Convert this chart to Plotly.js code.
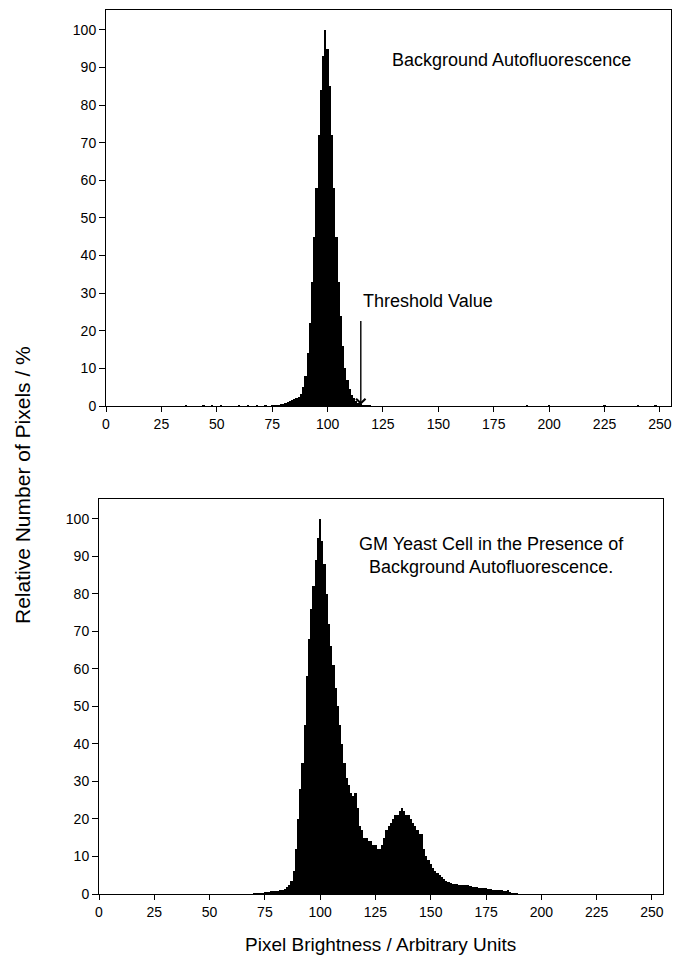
<!DOCTYPE html>
<html>
<head>
<meta charset="utf-8">
<script src="https://cdn.plot.ly/plotly-3.0.1.min.js"></script>
<style>html,body{margin:0;padding:0;background:#fff;}#chart{width:675px;height:962px;}</style>
</head>
<body>
<div id="chart"></div>
<script>
// Top panel: background autofluorescence histogram (brightness bin -> % of max)
const bgBins = [36,40,44,48,52,56,60,64,68,72,75,76,77,78,79,80,81,82,83,84,85,86,87,88,89,90,91,92,93,94,95,96,97,98,99,100,101,102,103,104,105,106,107,108,109,110,111,112,113,114,115,116,117,118,119,120,190,200,210,225,240,248];
const bgValues = [0.15,0.1,0.15,0.2,0.15,0.1,0.15,0.2,0.15,0.2,0.2,0.3,0.3,0.4,0.5,0.6,0.8,1.0,1.3,1.5,1.8,2.0,2.5,3.2,5,8,14,22,33,45,58,72,84,93,100,95,85,72,58,45,33,24,16,10,7,4.5,3,2,1.2,0.8,0.5,0.4,0.3,0.2,0.15,0.1,0.15,0.2,0.1,0.15,0.2,0.15];

// Bottom panel: GM yeast cell + background (bins 70..190)
const gmBins = [70,71,72,73,74,75,76,77,78,79,80,81,82,83,84,85,86,87,88,89,90,91,92,93,94,95,96,97,98,99,100,101,102,103,104,105,106,107,108,109,110,111,112,113,114,115,116,117,118,119,120,121,122,123,124,125,126,127,128,129,130,131,132,133,134,135,136,137,138,139,140,141,142,143,144,145,146,147,148,149,150,151,152,153,154,155,156,157,158,159,160,161,162,163,164,165,166,167,168,169,170,171,172,173,174,175,176,177,178,179,180,181,182,183,184,185,186,187,188,189,190];
const gmValues = [0.2,0.2,0.3,0.3,0.4,0.5,0.6,0.6,0.7,0.8,0.8,0.9,1.0,1.2,1.4,1.8,2.5,3.5,6,12,20,28,35,45,58,68,76,82,89,95,100,94,88,80,72,66,61,55,50,45,40,35,31,29,27,26,27,23,18,17,15,15,14,14,13,13,12,12,13,15,17,18,19,20,21,21,22,23,22,21,21,20,19,18,17,16,16,12,10,9,8,7,6,5.5,5,4.5,4,3.6,3.2,3,2.8,2.8,2.6,2.5,2.5,2.4,2.3,2.4,2.2,2,2,1.9,1.7,1.6,1.5,1.5,1.4,1.3,1.2,1.2,1.1,1.0,1.0,0.9,0.8,1.0,0.5,0.4,0.3,0.2,0.1];

const xTicks = [0,25,50,75,100,125,150,175,200,225,250];
const yTicks = [0,10,20,30,40,50,60,70,80,90,100];

const FONT = 'Liberation Sans, Arial, sans-serif';
const W = 675, H = 962;
const px = v => v / W;
const py = v => 1 - v / H;

const traces = [
  {type:'bar', x:bgBins, y:bgValues, xaxis:'x2', yaxis:'y2', width:1,
   marker:{color:'#000', line:{width:0}}, hoverinfo:'x+y'},
  {type:'bar', x:gmBins, y:gmValues, xaxis:'x', yaxis:'y', width:1,
   marker:{color:'#000', line:{width:0}}, hoverinfo:'x+y'}
];

const axX = (dom, anchor) => ({
  domain: dom, anchor: anchor, range:[0,255], tickvals:xTicks, ticktext:xTicks.map(String),
  ticks:'outside', ticklen:5, tickwidth:1, tickcolor:'#000',
  showline:true, linecolor:'#000', linewidth:1, mirror:true,
  showgrid:false, zeroline:false, tickfont:{family:FONT, size:14, color:'#000'}
});
const axY = (dom, anchor) => ({
  domain: dom, anchor: anchor, range:[0,105.3], tickvals:yTicks, ticktext:yTicks.map(String),
  ticks:'outside', ticklen:6, tickwidth:1, tickcolor:'#000',
  showline:true, linecolor:'#000', linewidth:1, mirror:true,
  showgrid:false, zeroline:false, tickfont:{family:FONT, size:14, color:'#000'}
});

const layout = {
  width:W, height:H, margin:{l:0,r:0,t:0,b:0},
  paper_bgcolor:'#fff', plot_bgcolor:'#fff', showlegend:false, bargap:0,
  font:{family:FONT, color:'#000'},
  xaxis: axX([px(99), px(663)], 'y'),
  yaxis: axY([py(894), py(499)], 'x'),
  xaxis2: axX([px(106), px(671)], 'y2'),
  yaxis2: axY([py(406), py(10)], 'x2'),
  annotations: [
    {xref:'paper', yref:'paper', x:px(511), y:py(60), text:'Background Autofluorescence',
     showarrow:false, font:{family:FONT, size:18, color:'#000'}, xanchor:'center', yanchor:'middle'},
    {xref:'paper', yref:'paper', x:px(428), y:py(301), text:'Threshold Value',
     showarrow:false, font:{family:FONT, size:18, color:'#000'}, xanchor:'center', yanchor:'middle'},
    {xref:'x2', yref:'y2', x:115, y:0.3, axref:'x2', ayref:'y2', ax:115, ay:23, text:'',
     showarrow:true, arrowhead:4, arrowsize:1.3, arrowwidth:1.4, arrowcolor:'#000', standoff:0},
    {xref:'paper', yref:'paper', x:px(491), y:py(555), text:'GM Yeast Cell in the Presence of<br>Background Autofluorescence.',
     showarrow:false, font:{family:FONT, size:18, color:'#000'}, xanchor:'center', yanchor:'middle', align:'center'},
    {xref:'paper', yref:'paper', x:px(380), y:py(944), text:'Pixel Brightness / Arbitrary Units',
     showarrow:false, font:{family:FONT, size:19, color:'#000'}, xanchor:'center', yanchor:'middle'},
    {xref:'paper', yref:'paper', x:px(22), y:py(485), text:'Relative Number of Pixels / %', textangle:-90,
     showarrow:false, font:{family:FONT, size:21, color:'#000'}, xanchor:'center', yanchor:'middle'}
  ]
};

Plotly.newPlot('chart', traces, layout, {displayModeBar:false, staticPlot:true});
</script>
</body>
</html>
